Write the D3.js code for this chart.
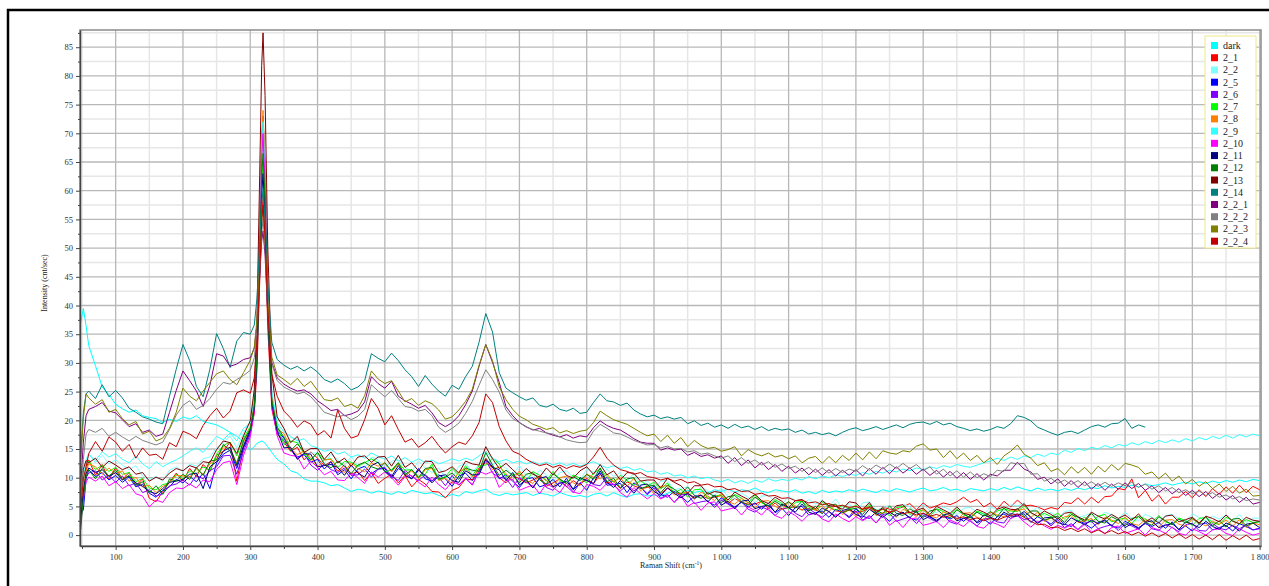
<!DOCTYPE html>
<html>
<head>
<meta charset="utf-8">
<script src="https://cdn.jsdelivr.net/npm/d3@7"></script>
<style>
  html, body { margin: 0; padding: 0; background: #fff; }
  svg { display: block; }
  text { font-family: "Liberation Serif", "Times New Roman", serif; }
</style>
</head>
<body>
<svg id="chart" width="1269" height="586"></svg>
<script>
// Raman shift sample positions (cm-1); finer spacing across the 318 cm-1 band
const shift = [48, 52, 56, ...d3.range(60, 300, 10),
  300, 306, 310, 314, 317, 319, 322, 326, 332, 340,
  ...d3.range(350, 1801, 10)];

const seriesNames = ["dark", "2_1", "2_2", "2_5", "2_6", "2_7", "2_8", "2_9", "2_10",
  "2_11", "2_12", "2_13", "2_14", "2_2_1", "2_2_2", "2_2_3", "2_2_4"];

const seriesColors = ["#00FFFF", "#FF0000", "#80FFFF", "#0000FF", "#8000FF", "#00FF00",
  "#FF8000", "#33FFFF", "#FF00FF", "#000080", "#008000", "#800000", "#008080",
  "#800080", "#808080", "#808000", "#C00000"];

const yTicks = d3.range(0, 86, 5);
const xTicks = d3.range(100, 1801, 100);

// Intensity (cnt/sec) per spectrum
const dark = [
  37, 39.5, 36.5, 33, 29.5, 25.8, 24.5,
  22.8, 22, 21.4, 21.8, 20.8, 20.5, 20.3, 19.6, 20.2, 19.8,
  20.6, 20.2, 20.8, 19.8, 19.5, 19.2, 18.6, 17.9, 17.2, 16.2,
  14.8, 15.4, 16, 16.2, 16.4, 16.3, 16, 15.4, 14.4, 13.2,
  12.4, 11.2, 10.8, 9.8, 9.4,
  9.4, 9.1, 8.6, 8.8, 8.2, 7.6, 8, 7.8, 7.3, 7.7,
  7.4, 7.1, 7.6, 7.2, 7.8, 7.5, 7.2, 7.4, 6.9, 6.6,
  7.1, 6.8, 7.6, 7.3, 7.7, 8, 7.2, 6.9, 7.3, 7,
  7.2, 7.4, 6.9, 7.3, 7.1, 6.8, 7.4, 7, 6.7, 6.9,
  6.6, 7.1, 7.3, 6.8, 7.4, 6.9, 6.6, 7.1, 7.2, 6.8,
  7, 6.8, 7.3, 7.6, 7.2, 7.8, 7.4, 7.7, 7.3, 7.9,
  7.6, 8, 7.5, 7.9, 7.7, 8.2, 7.6, 7.4, 7.9, 7.7,
  7.5, 7.9, 7.3, 7.6, 7.2, 7.8, 7.4, 7.7, 7.5, 7.9,
  7.6, 8, 7.7, 7.4, 7.9, 7.6, 8.1, 7.8, 7.5, 7.9,
  8.2, 7.7, 7.9, 8.3, 7.8, 8, 7.6, 8.1, 7.9, 7.7,
  8.1, 7.8, 8.3, 7.9, 8.4, 8, 7.7, 8.2, 7.8, 8,
  7.7, 8.1, 7.8, 8.2, 7.9, 8.3, 8.1, 8.6, 8.2, 8.5,
  8.3, 8.7, 8.4, 8.9, 8.6, 8.8, 9.1, 8.7, 9, 9.2,
  8.9, 9.3, 9, 9.4, 9.1, 9.5, 9.2, 9.6, 9.3, 9.7,
  9.5
];

const s2_1 = [
  2.8, 7.9, 11.2, 13.1, 10.4, 12.3, 9.6,
  11.8, 9.7, 10.9, 8.6, 9.8, 6.4, 5.8, 7.6, 9.2, 10.8,
  9.4, 11.6, 10.2, 12.3, 11.1, 13.9, 14.6, 16.2, 9.4, 15.3,
  17.8, 21.2, 28.8, 43.9, 55.6, 59, 52.3, 36.3, 22, 17.6,
  16.2, 14.6, 15.3, 13.1, 14.5,
  13.4, 12.1, 12.8, 11.1, 12.2, 10.6, 11.1, 9.5, 10.9, 9,
  9.9, 10.6, 9.1, 10.4, 8.4, 9.7, 8.9, 7.6, 7.5, 6.5,
  7.8, 8.3, 9.8, 9.6, 11.7, 12.6, 11.9, 10, 9.1, 10.4,
  9.8, 9.1, 9.6, 10.2, 8.5, 9.1, 9.8, 8.4, 9.5, 8.7,
  9.9, 8.9, 10.6, 9.1, 9.4, 8.1, 9.3, 8.6, 8.1, 8.3,
  8.4, 7.2, 8.2, 7.5, 7.1, 7.2, 6.6, 6.9, 6.4, 6.6,
  6.9, 5.5, 6.4, 5.7, 5.4, 5.4, 5.9, 4.6, 5.6, 4.5,
  4.8, 4.9, 4.4, 4.6, 4.4, 3.8, 4.9, 4.2, 4.1, 4.3,
  4, 4.1, 4.8, 3.6, 4.9, 4.5, 4.5, 4.9, 5.5, 4.4,
  5.6, 4.7, 5.1, 5.6, 5.3, 5.8, 6.6, 5.7, 6.2, 4.9,
  5.6, 4.5, 5.9, 4.9, 6.1, 5.1, 5.2, 4.9, 4.4, 4.8,
  4.5, 5.7, 5.5, 6.5, 5.4, 6.6, 5.6, 6.7, 6.8, 8.1,
  7.9, 9.8, 6.5, 7.8, 5.9, 7, 5.4, 6.6, 6.6, 7.6,
  6.5, 7.9, 6.7, 8.1, 7.1, 8.4, 7.3, 8.7, 7.4, 8.5,
  7.9
];

const s2_2 = [
  6.1, 10.8, 13.2, 14.3, 12.6, 13.9, 12.4,
  13.1, 12.2, 11.4, 12.1, 10.3, 9.7, 10.2, 9.4, 11.3, 11.9,
  11.1, 12.4, 12, 13.3, 13.6, 15.2, 16.1, 17.3, 15.2, 17.8,
  19.9, 23.3, 31, 46.5, 58.6, 62, 55.1, 38.8, 24.2, 19.8,
  16.2, 17, 16.7, 14.2, 14.3,
  14.3, 12.5, 14.1, 13.2, 12.1, 13.7, 12, 11.7, 13.6, 13.1,
  11.6, 12.9, 13.1, 11.8, 11.1, 12.9, 11.7, 10.9, 11.7, 10,
  9.9, 12, 12.5, 11, 12.3, 14.3, 12.3, 12.8, 11.6, 10.5,
  12.1, 10.4, 9.9, 11.3, 10.5, 9.3, 10.9, 11.2, 10, 9.5,
  11.5, 11, 10.7, 11.5, 10.2, 10.9, 9.4, 10.8, 8.6, 9.5,
  8.1, 9.4, 9.5, 7.9, 8.2, 8.4, 7.1, 8.4, 7.7, 6.9,
  8.2, 6.7, 6.3, 7.3, 6.6, 5.6, 6.8, 6.9, 5.9, 5.3,
  6.8, 6, 5.3, 6.2, 5.4, 6.1, 5.1, 6.3, 4.6, 5.5,
  4.1, 5.6, 5.8, 4.3, 4.8, 5.1, 4, 5.4, 4.9, 4.1,
  5.4, 4.2, 3.9, 4.9, 4.4, 3.5, 4.7, 4.8, 4, 3.6,
  4.9, 4.4, 4.1, 5.3, 5.1, 5.5, 4, 4.9, 3.3, 4,
  2.9, 4.1, 4.3, 3.1, 3.4, 3.8, 2.7, 4, 3.5, 2.9,
  4, 2.9, 2.6, 3.6, 3.1, 2.3, 3.4, 3.6, 2.8, 2.4,
  3.7, 3.1, 2.5, 3.3, 2.8, 3.5, 2.5, 3.6, 2.2, 3,
  2.9
];

const s2_5 = [
  3.6, 4.4, 9.8, 11.4, 10.2, 10.9, 9.6,
  10.4, 9.2, 10.1, 8.4, 8.9, 7.3, 6.6, 7.8, 8.4, 9.7,
  9.1, 10.2, 9.3, 10.8, 8.1, 12.6, 14.1, 14.8, 11.6, 15.2,
  18.1, 22.6, 32.7, 52.8, 68.5, 73, 64, 43.3, 24.2, 18.2,
  16.9, 15, 13.6, 14, 12.7,
  13.2, 11.5, 12.8, 10.5, 11.4, 9.8, 11.5, 12, 10.7, 11.5,
  11.6, 9.9, 11.6, 10.9, 9.8, 11.6, 9.8, 9.4, 10.5, 9.8,
  8.5, 10.3, 10.8, 9.5, 10.9, 13.4, 11.9, 9.8, 10.5, 9.4,
  8.3, 9.8, 10, 8.4, 8.8, 9.7, 8.4, 9.9, 7.9, 9.1,
  7.8, 10, 10.8, 8.7, 8.8, 9, 7.4, 9.1, 8.3, 7.2,
  8.6, 7.1, 6.6, 7.6, 6.8, 5.7, 6.8, 6.9, 5.8, 5.2,
  6.5, 5.5, 4.9, 5.7, 4.9, 5.6, 4.5, 5.6, 3.9, 4.7,
  3.4, 4.8, 5, 3.5, 3.9, 4.2, 3.1, 4.5, 4, 3.2,
  4.6, 3.3, 2.9, 4, 3.4, 2.4, 3.7, 3.9, 3, 2.6,
  3.8, 3.1, 2.6, 3.3, 2.8, 3.4, 2.4, 3.5, 2.1, 2.8,
  1.9, 3.2, 3.7, 2.9, 3.6, 3.7, 2.2, 3.2, 2.6, 1.9,
  3, 1.9, 1.5, 2.6, 2, 1.2, 2.2, 2.5, 1.6, 1.2,
  2.4, 1.8, 1.3, 2, 1.5, 2.2, 1.2, 2.3, 0.9, 1.6,
  0.7, 1.9, 2.1, 0.9, 1.3, 1.7, 0.7, 2, 1.5, 0.9,
  1.2
];

const s2_6 = [
  2.1, 7.2, 10.1, 10.8, 11.2, 9.6, 10.4,
  9.2, 10.3, 8.6, 9.1, 7.4, 7.9, 6.8, 7.2, 8.6, 8.9,
  9.6, 8.7, 10.4, 9.8, 11.2, 11.9, 13.8, 13.9, 10.6, 14.6,
  17.6, 22, 31.8, 51.4, 66.6, 71, 62.3, 41.6, 23, 17.6,
  16.5, 14.9, 13.3, 14.3, 12.2,
  11.3, 12.4, 11.4, 10.9, 11.7, 10.4, 10.5, 11.5, 10.1, 11.5,
  11.8, 10.3, 9.5, 11.3, 10.2, 9.5, 10.5, 9.5, 10.1, 8.6,
  10.4, 8.7, 9.9, 8.7, 11.2, 13.1, 10.8, 10, 9.9, 8.3,
  10, 9.3, 8.3, 10, 8.3, 7.8, 9.3, 8.5, 7.4, 9.1,
  9.6, 8.8, 8.6, 10.1, 8.7, 7.7, 8.7, 7.7, 8.5, 7,
  8.2, 6.4, 7.1, 5.7, 7, 7.1, 5.5, 5.8, 6, 4.8,
  6.1, 5.4, 4.6, 5.9, 4.5, 4, 4.9, 4.4, 3.4, 4.6,
  4.8, 3.8, 3.2, 4.6, 3.8, 3.1, 4.1, 3.3, 4, 3,
  4.2, 2.6, 3.4, 2.1, 3.6, 3.8, 2.4, 2.8, 3.2, 2,
  3.4, 2.9, 2.3, 3.4, 2.3, 1.9, 3, 2.4, 1.6, 2.8,
  3, 2.3, 2.1, 3.8, 3.5, 2.7, 3, 2.2, 2.7, 1.6,
  2.7, 1.3, 2, 1, 2.1, 2.4, 1.1, 1.5, 1.8, 0.8,
  2, 1.6, 1, 2.2, 1.1, 0.8, 1.9, 1.3, 0.6, 1.8,
  2, 0.8, 0.7, 2, 1.2, 0.9, 1.7, 1.1, 1.8, 0.9,
  1.1
];

const s2_7 = [
  4.2, 8.4, 12.3, 12.9, 11.4, 12.2, 11.1,
  11.8, 10.6, 10.9, 9.3, 9.9, 8.2, 7.9, 8.8, 9.1, 10.6,
  9.8, 11.2, 10.6, 11.9, 11.3, 14.1, 15.6, 16.2, 13.8, 16.9,
  18.9, 22.7, 31.2, 48.1, 61.2, 65, 57.5, 39.6, 23.6, 19,
  15.8, 16.4, 16.1, 14.1, 13,
  14.4, 13.1, 13.3, 11.8, 12.8, 12.7, 12, 12.6, 13.3, 12.6,
  11, 11.4, 12.6, 11.3, 11.4, 10.2, 10.6, 12.4, 9.7, 10.2,
  11.6, 10.4, 12.1, 10.3, 12.1, 12.2, 13.4, 12.4, 10.1, 10.5,
  10.8, 9.3, 11.1, 10.4, 9.4, 11.1, 9.5, 9, 10.5, 9.9,
  9.1, 10.8, 11.5, 10.2, 9.2, 10.4, 9.5, 8.7, 9.5, 8.6,
  9.2, 8, 9.1, 7.3, 8, 6.6, 7.9, 8, 6.4, 6.8,
  7, 5.7, 7.1, 6.4, 5.6, 7, 5.6, 5.1, 6.2, 5.5,
  4.5, 5.7, 5.9, 4.9, 4.3, 5.7, 5, 4.3, 5.2, 4.5,
  5.2, 4.2, 5.4, 3.7, 4.6, 3.3, 4.8, 5, 3.6, 4,
  4.4, 3.3, 4.6, 4.1, 3.5, 4.6, 3.5, 3.1, 4.2, 3.7,
  2.9, 4.2, 4.6, 4.2, 4.1, 5.1, 3.9, 3.2, 3.8, 3.2,
  3.8, 2.8, 3.9, 2.5, 3.1, 2.2, 3.3, 3.6, 2.3, 2.7,
  3, 2, 3.3, 2.8, 2.2, 3.4, 2.3, 1.9, 3, 2.5,
  1.7, 2.9, 3.1, 2.2, 1.8, 3.1, 2.5, 1.9, 2.7, 2.2,
  2.3
];

const s2_8 = [
  3.9, 8.6, 11.1, 12.4, 11.9, 10.6, 11.7,
  10.6, 11.2, 9.4, 10.1, 8.4, 8.7, 7.4, 8.5, 9.1, 10.4,
  10.3, 10.1, 11.5, 10.6, 12.4, 13.2, 15.4, 15.1, 12.6, 16.2,
  18.6, 23.2, 33.3, 53.7, 69.5, 74, 65, 43.5, 24.3, 18.5,
  17.7, 15.1, 14, 14.7, 13.5,
  11.9, 13.1, 13.2, 11.7, 10.9, 12.6, 11.6, 11, 12.6, 12,
  12.6, 11, 12.4, 10.3, 11.2, 9.8, 11.4, 11.6, 9.5, 9.9,
  9, 11.1, 11.6, 10.1, 11.4, 13.4, 11.4, 11.9, 10.7, 9.6,
  11.2, 9.5, 9, 10.4, 9.6, 8.4, 10, 10.3, 9.1, 8.6,
  10.6, 10.1, 9.8, 10.6, 9.3, 10, 8.5, 9.9, 7.7, 8.6,
  7.2, 8.5, 8.6, 7, 7.3, 7.5, 6.2, 7.5, 6.8, 6,
  7.3, 5.8, 5.4, 6.4, 5.7, 4.7, 5.9, 6, 5, 4.4,
  5.8, 5.1, 4.3, 5.2, 4.4, 5.1, 4.1, 5.3, 3.6, 4.5,
  3.2, 4.7, 4.9, 3.4, 3.9, 4.2, 3.1, 4.5, 4, 3.2,
  4.5, 3.3, 3, 4, 3.5, 2.6, 3.8, 3.9, 3.1, 2.7,
  4, 3.5, 3.2, 4.4, 4.2, 4.6, 3.1, 4, 2.4, 3,
  2, 3.2, 3.4, 2.2, 2.5, 2.9, 1.8, 3.1, 2.6, 2,
  3.1, 2, 1.7, 2.7, 2.2, 1.4, 2.6, 2.7, 1.9, 1.5,
  2.8, 2.2, 1.6, 2.4, 1.9, 2.6, 1.6, 2.7, 1.3, 2.1,
  1.8
];

const s2_9 = [
  6, 9.5, 12.5, 14, 13, 14.5, 13.6,
  14.2, 13.2, 12.6, 13.8, 12.4, 11.6, 12.8, 11.9, 12.6, 13.1,
  13.8, 14.6, 15.2, 14.4, 15.8, 17.2, 16.6, 17.8, 16.4, 18.6,
  19.5, 24.5, 33.5, 52, 66.5, 72, 63.5, 42, 25, 19.5,
  18, 17.2, 16.4, 16.8, 15.6,
  15.2, 14.6, 14.9, 14.1, 14.5, 13.6, 14, 13.4, 14.3, 13.7,
  13.2, 13.8, 12.9, 13.5, 12.7, 13.3, 12.6, 13.1, 12.4, 12.8,
  13.3, 12.9, 13.4, 13, 13.8, 14.6, 13.4, 12.8, 13.2, 12.6,
  12.9, 12.4, 12.8, 12.3, 12.7, 12.2, 12.6, 12.1, 12.5, 12,
  12.4, 12.8, 12.2, 11.7, 12.1, 11.6, 11.9, 11.3, 11.6, 11,
  11.2, 10.6, 10.9, 10.3, 10.5, 10, 10.3, 9.8, 10.1, 9.6,
  9.3, 9.7, 9.1, 9.5, 9, 9.6, 9.2, 9.8, 9.4, 9.7,
  9.5, 9.9, 9.6, 10.2, 9.8, 10.3, 10, 10.5, 10.2, 10.6,
  10.4, 10.9, 10.6, 11.1, 10.8, 11.3, 11, 11.5, 11.2, 11.7,
  11.4, 11.9, 11.6, 12.1, 11.8, 12.3, 12, 11.8, 12.2, 12.6,
  12.9, 13.4, 13, 13.6, 13.2, 13.8, 13.5, 14.1, 13.7, 14.3,
  14, 14.8, 14.4, 15.1, 14.7, 15.3, 15, 15.6, 15.2, 15.8,
  15.5, 16.1, 15.7, 16.3, 15.9, 16.5, 16.1, 16.6, 16.2, 16.8,
  16.4, 17, 16.6, 17.2, 16.8, 17.4, 16.9, 17.5, 17.1, 17.6,
  17.3
];

const s2_10 = [
  1.8, 6.4, 9.2, 10.1, 9.4, 10.3, 8.6,
  9.3, 8.1, 8.8, 7.2, 6.8, 4.9, 6.1, 5.7, 7.4, 8.2,
  8.1, 8.9, 8.2, 9.6, 9.3, 11.4, 12.6, 12.9, 8.8, 13.9,
  17.1, 21.4, 31.1, 50.6, 65.7, 70, 61.4, 40.8, 22.5, 17.3,
  14.3, 13.9, 13.7, 11.5, 12.9,
  11.8, 10.5, 11.1, 9.6, 9.5, 10.8, 10, 9, 11, 10.1,
  11, 10, 8.7, 10.2, 10.4, 9.2, 8.4, 10.1, 8.8, 7.9,
  9.3, 8.8, 9.9, 8.8, 11.1, 10.6, 11.1, 8.3, 9.5, 9.7,
  7.8, 8.3, 8.7, 7.2, 9, 8.3, 7.4, 9.1, 7.5, 7.2,
  8.8, 8.5, 7.8, 9, 8.9, 7.4, 6.6, 8.3, 7.2, 6.3,
  7.2, 6.3, 6.9, 5.7, 6.8, 5, 5.7, 4.3, 5.6, 5.8,
  4.2, 4.5, 4.8, 3.5, 4.9, 4.3, 3.5, 4.8, 3.4, 2.9,
  4.1, 3.4, 2.4, 3.6, 3.8, 2.8, 2.3, 3.7, 2.9, 2.3,
  3.2, 2.5, 3.2, 2.1, 3.4, 1.7, 2.6, 1.3, 2.8, 3,
  1.7, 2, 2.4, 1.3, 2.6, 2.1, 1.5, 2.6, 1.5, 1.2,
  2.3, 1.9, 1.3, 2.9, 3.4, 2.3, 1.4, 2.4, 1.6, 1,
  1.7, 1.2, 1.8, 0.9, 1.9, 0.5, 1.1, 0.2, 1.3, 1.6,
  0.3, 0.7, 1.1, 0, 1.3, 0.9, 0.3, 1.4, 0.3, 0,
  1.1, 0.6, 0, 0.9, 1.1, 0.3, -0.1, 1.1, 0.5, 0,
  0.3
];

const s2_11 = [
  2.6, 7.6, 10.7, 11.7, 10.9, 11.4, 10.2,
  10.9, 9.6, 10.3, 9.1, 8.5, 7.6, 7.2, 8.1, 9.2, 9.4,
  9.7, 10.6, 10.8, 8.1, 11.9, 12.8, 14.6, 15.3, 12.1, 15.6,
  18.4, 22.1, 30.2, 46.6, 59.4, 63, 55.7, 38.4, 23, 18.2,
  15.2, 15.3, 13.2, 14.2, 14.1,
  11.9, 12.1, 12.3, 11.8, 10.4, 12.2, 10.8, 10.1, 12.1, 12.7,
  11.1, 10.2, 12.1, 10.4, 9.8, 11.3, 10.4, 9.1, 10.3, 10.5,
  9.5, 9.2, 11.2, 10.5, 10.5, 13.2, 11.8, 11.4, 9.5, 10.9,
  8.7, 9.7, 8.2, 9.9, 10.2, 8.4, 9, 9.4, 8, 10,
  9.5, 9, 11.2, 9.2, 8.3, 9.5, 8.6, 7.3, 8.7, 8.9,
  7.6, 6.9, 8.2, 7.3, 6.5, 7.3, 6.4, 7, 5.8, 7,
  5.2, 5.9, 4.6, 5.9, 6.1, 4.6, 5, 5.2, 4, 5.4,
  4.8, 4, 5.4, 4, 3.6, 4.7, 4.1, 3.1, 4.3, 4.6,
  3.6, 3.1, 4.5, 3.7, 3.1, 4, 3.3, 4, 3, 4.2,
  2.7, 3.3, 2.4, 3.5, 3.8, 2.5, 2.9, 3.2, 2.2, 3.5,
  3.1, 2.6, 4, 3.3, 3.3, 4.1, 3.1, 2, 3, 3.1,
  2.2, 1.8, 3, 2.4, 1.8, 2.6, 2, 2.7, 1.6, 2.8,
  1.3, 2, 1.1, 2.2, 2.5, 1.3, 1.7, 2, 1, 2.3,
  1.9, 1.3, 2.4, 1.5, 1, 2.1, 1.6, 0.7, 1.9, 2.1,
  1.3
];

const s2_12 = [
  0.9, 6.5, 10.2, 11.4, 9.8, 11.6, 10.3,
  11.3, 9.6, 10.4, 8.7, 9.3, 7.4, 8.6, 7.1, 9.8, 9.4,
  10.6, 9.7, 11.8, 10.4, 12.9, 13.1, 15.8, 14.6, 12.4, 16.5,
  18.5, 22.4, 31.2, 48.9, 62.6, 66.5, 58.7, 40, 23.4, 18.8,
  17.1, 14.7, 15.9, 14.5, 13.1,
  14.4, 12.4, 11.7, 12.9, 12, 10.7, 12.2, 12.7, 11.9, 11.5,
  12.6, 11.2, 12.6, 10.5, 11.4, 10, 11.6, 11.8, 9.7, 10.1,
  10.8, 9.7, 11.7, 11.3, 11.1, 14.4, 12.2, 10.4, 11.3, 10.4,
  9.1, 10.6, 10.9, 9.6, 8.9, 10.7, 9.8, 9, 10.2, 9.5,
  10.6, 9.7, 11.7, 9.3, 9.9, 8.2, 9.8, 10, 8.1, 8.5,
  8.7, 7.4, 8.7, 8, 7.1, 8.4, 6.9, 6.4, 7.4, 6.7,
  5.6, 6.7, 6.9, 5.8, 5.2, 6.6, 5.8, 5, 5.9, 5.1,
  5.8, 4.7, 5.9, 4.2, 5, 3.7, 5.2, 5.4, 3.9, 4.4,
  4.7, 3.6, 5, 4.4, 3.7, 5.1, 3.8, 3.4, 4.6, 3.9,
  3.1, 4.2, 4.5, 3.5, 3, 4.4, 3.7, 3, 4, 3.3,
  4.1, 3.2, 4.7, 3.5, 4.7, 3.2, 4.2, 4.2, 2.6, 3,
  3.3, 2.2, 3.6, 3.1, 2.3, 3.8, 2.4, 2.1, 3.2, 2.6,
  1.6, 2.9, 3.2, 2.2, 1.7, 3.2, 2.5, 1.8, 2.8, 2.1,
  3, 1.9, 3.2, 1.6, 2.5, 1.4, 2.8, 2.9, 1.6, 2.1,
  2.4
];

const s2_13 = [
  7, 11.5, 13, 12.6, 13.4, 11.8, 12.9,
  12.2, 11.4, 11.9, 10.6, 10.9, 9.4, 10.1, 9.6, 10.8, 11.6,
  11.2, 12.1, 11.7, 12.8, 12.6, 14.9, 16.4, 16.1, 14.2, 17.3,
  19.9, 25.4, 37.8, 62.7, 81.8, 87.5, 76.6, 50.4, 28.2, 20.6,
  18.6, 16.1, 17.2, 14.4, 15.1,
  15.1, 13.2, 14.5, 12.6, 13.4, 12, 13.6, 13.8, 12.7, 13.6,
  13.7, 12, 13.9, 11.8, 12.6, 11.2, 12.9, 12.8, 10.9, 11.2,
  11.9, 10.8, 12.9, 12.4, 12.2, 15.4, 13.3, 11.6, 12.5, 11.4,
  10.3, 11.6, 10.6, 10.1, 11.7, 10.5, 11.9, 10.4, 9.9, 11.2,
  11.9, 10.6, 12.3, 10.5, 11.2, 9.6, 10.9, 10.8, 9.4, 9.6,
  9.6, 8.2, 9.9, 9.2, 8.6, 7.3, 8.6, 8.6, 7.1, 7.6,
  7.4, 6.1, 7.5, 6.8, 6.2, 7.1, 6, 5.5, 6.6, 5.9,
  4.8, 6, 6.2, 5.2, 4.6, 6, 5.1, 5, 4.5, 5.8,
  5.6, 4.4, 5.7, 3.9, 4.8, 3.8, 5.1, 5.3, 3.9, 4.3,
  4.7, 3.6, 5, 4.4, 3.8, 4.9, 3.8, 3.5, 4.5, 4,
  3.3, 4.5, 4.9, 4.5, 4.4, 5.5, 3.9, 3.3, 4.2, 3.6,
  2.8, 3.8, 4, 3.2, 2.6, 4, 3.3, 2.8, 3.6, 2.9,
  3.5, 2.6, 3.7, 2.3, 3, 2.1, 3.3, 3.5, 2.3, 2.7,
  3.1, 2.1, 3.3, 2.9, 2.3, 3.5, 2.4, 2, 3.1, 2.6,
  2.4
];

const s2_14 = [
  14.2, 21.3, 24.6, 25.1, 23.8, 26.2, 24.1,
  25.2, 23.9, 22.1, 21.4, 20.6, 20.2, 19.7, 19.4, 24.2, 28.9,
  33.2, 30.4, 25.9, 24.1, 28.9, 35.1, 32.5, 29.2, 33.8, 35.3,
  35, 36.6, 41.3, 50.6, 57.9, 60, 55.2, 43.8, 33.6, 30.6,
  29.6, 28.9, 29.4, 28.6, 29.3,
  28.4, 27.1, 26.6, 27.2, 26.4, 25.3, 25.8, 26.9, 31.6, 30.8,
  30.2, 31.7, 30.4, 28.8, 27.6, 25.9, 27.8, 26.3, 25.1, 24.2,
  26.1, 25.4, 27.6, 29.4, 33.6, 38.6, 35.4, 28.3, 25.6, 24.8,
  24.1, 23.5, 23.9, 22.6, 22.3, 22.8, 21.9, 21.6, 22.1, 21.2,
  21.4, 23.1, 24.6, 23.4, 23.2, 22.6, 23, 21.8, 21.1, 20.6,
  20.9, 20.3, 20.6, 20.2, 20.5, 19.4, 19.9, 19.1, 19.5, 18.8,
  19.2, 18.6, 19.3, 18.7, 19, 18.4, 18.9, 18.2, 18.6, 18.3,
  18.5, 17.9, 18.3, 17.6, 17.9, 17.5, 17.8, 17.3, 17.9, 18.4,
  18.7, 18.2, 18.5, 18.9, 18.4, 18.8, 19.2, 18.7, 19.3, 19.6,
  19.7, 19.3, 19.8, 19.2, 19.5, 18.9, 18.6, 18.2, 18.5, 18.1,
  18.4, 18.9, 18.6, 19.4, 20.8, 20.5, 19.9, 18.8, 18.3, 17.8,
  17.4, 17.9, 18.1, 17.7, 18.3, 18.9, 19.2, 18.8, 19.4, 19.5,
  20.3, 18.6, 19.2, 18.8, null, null, null, null, null, null,
  null, null, null, null, null, null, null, null, null, null,
  null
];

const s2_2_1 = [
  8.6, 16.2, 20.8, 21.9, 22.4, 23.1, 21.6,
  21.3, 20.1, 18.9, 19.4, 17.9, 18.3, 17.2, 17.6, 21.4, 25.2,
  28.6, 26.9, 25.1, 22.4, 26.1, 31.6, 31.2, 29.4, 29.8, 30.6,
  30.9, 32.6, 36.8, 44.9, 51.2, 53, 48.8, 38.5, 30.1, 27.4,
  26.3, 25.6, 25.1, 25.3, 24.6,
  23.4, 22.6, 21.7, 21.9, 20.8, 21.1, 21.6, 23.2, 27.6, 26.4,
  25.6, 26.8, 24.2, 23.4, 22.8, 22.1, 22.6, 21.3, 19.6, 18.9,
  19.6, 20.8, 22.7, 25.1, 29.4, 33.2, 30.1, 26.6, 22.4, 20.8,
  19.6, 18.9, 18.3, 18.6, 17.8, 17.4, 17.1, 17.5, 16.9, 17.3,
  17.1, 18.7, 19.9, 19.1, 18.6, 18.3, 17.6, 16.8, 16.2, 16,
  16, 14.8, 15.2, 14.8, 15, 13.9, 14.4, 13.7, 14, 13.4,
  13.8, 12.5, 13.5, 12.1, 13.1, 11.7, 12.7, 11.4, 12.3, 11.1,
  12, 10.8, 11.7, 10.5, 11.5, 10.4, 11.4, 10.3, 11.3, 10.4,
  11.4, 10.3, 11.6, 10.6, 11.8, 10.7, 11.9, 10.8, 11.7, 10.6,
  11.5, 10.4, 11.3, 10.1, 11.1, 9.9, 10.9, 9.7, 10.7, 9.6,
  10.6, 10.3, 11.3, 11.3, 12.7, 11.5, 11, 9.7, 10.1, 8.9,
  9.8, 8.5, 9.5, 8.3, 9.3, 8, 9, 7.8, 8.9, 8,
  9.1, 8.1, 9, 7.8, 8.6, 7.4, 8.3, 7.2, 8.1, 6.9,
  7.8, 6.7, 7.6, 6.4, 7.3, 6.1, 6.9, 5.7, 6.6, 5.4,
  5.7
];

const s2_2_2 = [
  6.4, 13.2, 17.6, 18.4, 17.9, 18.6, 17.2,
  17.9, 17.1, 16.4, 17.2, 16.5, 16.1, 15.7, 16.2, 18.4, 20.9,
  22.6, 23.4, 21.9, 22.6, 23.8, 25.4, 26.6, 26.3, 27.1, 27.8,
  28.7, 30.9, 35.7, 45.4, 52.6, 55, 50.4, 39.2, 29.9, 26.9,
  25.8, 25.2, 24.6, 24.9, 24.1,
  22.8, 21.4, 21, 20.6, 20.9, 20.1, 20.7, 21.9, 26.2, 25.1,
  24.1, 25.2, 23.8, 22.4, 22.2, 21.6, 21.9, 20.8, 18.8, 17.9,
  18.6, 19.5, 21.2, 23.3, 26.1, 28.8, 27.1, 24.9, 21.8, 20.3,
  19.6, 18.8, 18.4, 18.1, 17.8, 17.6, 17.1, 16.6, 16.3, 16.1,
  16.2, 18.1, 19.3, 18.6, 17.8, 17.6, 17.1, 16.5, 16.1, 15.7,
  15.8, 15.2, 15.5, 15, 15.1, 14.5, 14.7, 14.1, 14.3, 13.8,
  13.4, 13.8, 12.8, 13.5, 12.5, 13.1, 12.2, 12.8, 11.8, 12.4,
  11.6, 12, 11.1, 11.8, 10.9, 11.7, 10.8, 11.6, 10.9, 11.5,
  11.1, 12.1, 11.3, 12.2, 11.5, 12.4, 11.6, 12.5, 11.6, 12.3,
  11.2, 11.9, 10.6, 11.5, 10.3, 11.2, 10.1, 11, 10, 10.7,
  10.2, 11.3, 11.1, 12.6, 12.4, 12.5, 10.6, 10.7, 9.4, 9.9,
  9, 9.6, 8.8, 9.5, 8.6, 9.3, 8.5, 9.2, 8.5, 9.1,
  8.6, 9.2, 8.3, 8.9, 8, 8.6, 7.7, 8.3, 7.4, 7.9,
  7.2, 7.7, 6.9, 7.4, 6.6, 7, 6.3, 6.7, 6, 6.3,
  6.1
];

const s2_2_3 = [
  12.8, 20.4, 24.6, 23.9, 22.8, 23.6, 21.4,
  21.9, 20.3, 19.2, 19.8, 17.6, 18.1, 16.4, 16.9, 18.6, 21.4,
  25.6, 24.2, 23.4, 25.1, 26.6, 28.1, 28.6, 27.1, 26.2, 28.3,
  30.5, 32.7, 37.6, 47.3, 54.8, 57, 52.3, 41.1, 31, 27.9,
  27.1, 26.2, 27.3, 25.9, 26.8,
  25.2, 23.6, 23.4, 23.9, 22.4, 22.8, 22.1, 24.3, 28.6, 27.2,
  26.4, 26.9, 25.1, 23.2, 23.8, 22.6, 23.4, 22.9, 21.8, 20.2,
  20.6, 21.8, 23.3, 25.4, 29.6, 33.2, 30.4, 25.8, 23.6, 21.9,
  20.7, 20.1, 19.3, 18.9, 18.4, 18.7, 17.8, 18.2, 17.7, 18.1,
  18.3, 19.6, 21.6, 20.8, 20.1, 19.7, 19.3, 18.6, 17.9, 17.3,
  17.6, 16.3, 17.4, 16, 17, 15.4, 16.5, 15.6, 15.1, 15.3,
  14.6, 14.9, 15.4, 13.8, 14.9, 14.2, 13.8, 14.3, 13.6, 13.9,
  13.3, 13.8, 12.6, 13.4, 13.7, 12.5, 13.7, 12.6, 13.9, 13,
  14.3, 13.1, 14.5, 13.3, 14.7, 14.3, 14.1, 14.7, 14.5, 15.5,
  15.9, 14.8, 15, 13.5, 14.7, 13.3, 14.3, 13, 13.9, 12.6,
  13.5, 12.3, 13.8, 14.6, 15.7, 14.1, 13.4, 12.1, 12.6, 11.1,
  11.6, 10.5, 11.9, 10.8, 11.8, 10.6, 12, 11, 12.3, 11.3,
  12.5, 12.2, 11.8, 10.6, 11, 9.8, 10.8, 9.4, 10.3, 8.9,
  9.7, 8.5, 9.3, 8.1, 8.9, 7.6, 8.5, 7.3, 8, 6.8,
  6.9
];

const s2_2_4 = [
  4.6, 9.8, 11.9, 14.2, 16.3, 14.6, 17.1,
  16.2, 14.6, 15.8, 13.4, 15.2, 13.9, 14.1, 13.2, 16.1, 15.4,
  18.1, 17.6, 16.8, 19.1, 20.8, 22.1, 20.4, 21.6, 24.8, 25.3,
  24.7, 27.4, 33.4, 45.4, 54.8, 57.5, 52.1, 39.4, 28, 24.2,
  21.6, 20.4, 18.8, 19.9, 19.3,
  17.4, 18.2, 16.9, 21.8, 18.6, 16.9, 17.3, 20.1, 23.8, 22.1,
  19.2, 20.8, 18.4, 16.2, 16.8, 15.3, 16.1, 17.2, 15.6, 14.3,
  15.4, 16.2, 15.8, 17.3, 19.6, 24.6, 23.1, 18.9, 16.4, 14.6,
  14.1, 13.2, 12.6, 12.1, 12.4, 11.8, 12.2, 11.6, 12.1, 11.8,
  12.3, 13.6, 15.3, 13.4, 12.2, 11.4, 11.1, 10.6, 10.9, 10.2,
  10, 9.6, 9.9, 9.4, 9.7, 9.1, 9.3, 8.7, 8.9, 8.4,
  8.5, 7.9, 8.1, 7.6, 7.7, 7.1, 7.3, 6.8, 6.9, 6.4,
  6.5, 6, 6.1, 5.6, 5.8, 5.3, 5.5, 5, 5.2, 4.8,
  5, 4.5, 4.8, 4.2, 4.5, 4, 4.3, 3.7, 4, 3.5,
  3.8, 3.3, 3.6, 3.1, 3.4, 2.9, 3.2, 2.7, 3, 2.5,
  2.9, 2.6, 3.1, 3.4, 3.7, 3.1, 2.4, 1.8, 1.9, 1.3,
  1.4, 0.8, 1.2, 0.6, 1.1, 0.4, 0.9, 0.3, 0.8, 0.2,
  0.6, 0, 0.5, -0.2, 0.4, -0.3, 0.3, -0.5, 0.2, -0.6,
  0.1, -0.7, 0, -0.8, 0.1, -0.9, -0.1, -0.8, 0, -0.9,
  -0.6
];

const seriesValues = [dark, s2_1, s2_2, s2_5, s2_6, s2_7, s2_8, s2_9, s2_10,
  s2_11, s2_12, s2_13, s2_14, s2_2_1, s2_2_2, s2_2_3, s2_2_4];

// ---------------------------------------------------------------- layout
const svg = d3.select("#chart");
const plot = { left: 80, right: 1261, top: 30, bottom: 546 };

const x = d3.scaleLinear().domain([47, 1802]).range([plot.left, plot.right]);
const y = d3.scaleLinear().domain([-1.9, 88]).range([plot.bottom, plot.top]);

const spaced = d3.formatLocale({ decimal: ".", thousands: "\u2009", grouping: [3], currency: ["", ""] }).format(",");

// outer page frame
svg.append("rect")
  .attr("x", 8).attr("y", 10).attr("width", 1300).attr("height", 620)
  .attr("fill", "none").attr("stroke", "#000").attr("stroke-width", 2.5);

// grid
const grid = svg.append("g");
const minorY = d3.range(2.5, 88, 5);
const minorX = d3.range(50, 1801, 100);
grid.selectAll("line.hmin").data(minorY).join("line")
  .attr("x1", plot.left).attr("x2", plot.right)
  .attr("y1", d => y(d)).attr("y2", d => y(d))
  .attr("stroke", "#e6e6e6").attr("stroke-width", 1.5);
grid.selectAll("line.vmin").data(minorX).join("line")
  .attr("y1", plot.top).attr("y2", plot.bottom)
  .attr("x1", d => x(d)).attr("x2", d => x(d))
  .attr("stroke", "#e6e6e6").attr("stroke-width", 1.5);
grid.selectAll("line.hmaj").data(yTicks).join("line")
  .attr("x1", plot.left).attr("x2", plot.right)
  .attr("y1", d => y(d)).attr("y2", d => y(d))
  .attr("stroke", "#b8b8b8").attr("stroke-width", 1.3);
grid.selectAll("line.vmaj").data(xTicks).join("line")
  .attr("y1", plot.top).attr("y2", plot.bottom)
  .attr("x1", d => x(d)).attr("x2", d => x(d))
  .attr("stroke", "#b8b8b8").attr("stroke-width", 1.3);

// plot frame
svg.append("rect")
  .attr("x", plot.left).attr("y", plot.top)
  .attr("width", plot.right - plot.left).attr("height", plot.bottom - plot.top)
  .attr("fill", "none").attr("stroke", "#8a8a8a").attr("stroke-width", 1.5);

// spectra
svg.append("clipPath").attr("id", "plotClip")
  .append("rect")
  .attr("x", plot.left).attr("y", plot.top)
  .attr("width", plot.right - plot.left).attr("height", plot.bottom - plot.top);

const line = d3.line()
  .defined(d => d[1] !== null)
  .x(d => x(d[0]))
  .y(d => y(d[1]));

svg.append("g").attr("clip-path", "url(#plotClip)")
  .selectAll("path").data(seriesValues).join("path")
  .attr("d", vals => line(shift.map((s, i) => [s, vals[i] === undefined ? null : vals[i]])))
  .attr("fill", "none")
  .attr("stroke", (d, i) => seriesColors[i])
  .attr("stroke-width", 1)
  .attr("stroke-linejoin", "round");

// axes
const styleAxis = g => {
  g.select(".domain").attr("stroke", "#444").attr("stroke-width", 1.5);
  g.selectAll(".tick line").attr("stroke", "#444");
  g.selectAll(".tick text")
    .attr("fill", "#333")
    .style("font-family", "'Liberation Serif', 'Times New Roman', serif")
    .style("font-size", "8.5px");
};

svg.append("g").attr("transform", `translate(${plot.left},0)`)
  .call(d3.axisLeft(y).tickValues(minorY).tickSize(2).tickSizeOuter(0).tickFormat(""))
  .call(g => g.select(".domain").remove())
  .call(g => g.selectAll(".tick line").attr("stroke", "#444"));
svg.append("g").attr("transform", `translate(${plot.left},0)`)
  .call(d3.axisLeft(y).tickValues(yTicks).tickSize(4).tickSizeOuter(0).tickPadding(3))
  .call(styleAxis);

svg.append("g").attr("transform", `translate(0,${plot.bottom})`)
  .call(d3.axisBottom(x).tickValues(minorX).tickSize(3).tickSizeOuter(0).tickFormat(""))
  .call(g => g.select(".domain").remove())
  .call(g => g.selectAll(".tick line").attr("stroke", "#444"));
svg.append("g").attr("transform", `translate(0,${plot.bottom})`)
  .call(d3.axisBottom(x).tickValues(xTicks).tickSize(4).tickSizeOuter(0).tickPadding(4)
    .tickFormat(d => spaced(d)))
  .call(styleAxis);

// axis titles
const xTitle = svg.append("text")
  .attr("x", 671).attr("y", 568)
  .attr("text-anchor", "middle")
  .attr("fill", "#222")
  .style("font-size", "8px");
xTitle.append("tspan").text("Raman Shift (cm");
xTitle.append("tspan").attr("dy", -3).style("font-size", "5.5px").text("-1");
xTitle.append("tspan").attr("dy", 3).text(")");

svg.append("text")
  .attr("transform", "translate(47,283) rotate(-90)")
  .attr("text-anchor", "middle")
  .attr("fill", "#222")
  .style("font-size", "8px")
  .text("Intensity (cnt/sec)");

// legend
const legend = svg.append("g");
legend.append("rect")
  .attr("x", 1205).attr("y", 36).attr("width", 51).attr("height", 212)
  .attr("fill", "#fff").attr("stroke", "#efe98a").attr("stroke-width", 1);
const rowH = 12.23;
const rows = legend.selectAll("g.row").data(seriesNames).join("g")
  .attr("transform", (d, i) => `translate(0,${42 + i * rowH})`);
rows.append("rect")
  .attr("x", 1211).attr("y", 0).attr("width", 7).attr("height", 7)
  .attr("fill", (d, i) => seriesColors[i]);
rows.append("text")
  .attr("x", 1223).attr("y", 7)
  .attr("fill", "#222")
  .style("font-size", "10px")
  .text(d => d);
</script>
</body>
</html>
